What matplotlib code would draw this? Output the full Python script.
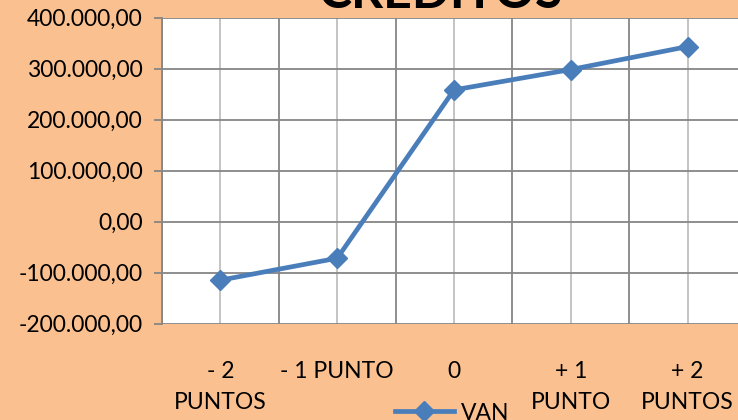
import matplotlib
matplotlib.use("Agg")
import matplotlib.pyplot as plt
from matplotlib.ticker import FuncFormatter, FixedLocator
from matplotlib.lines import Line2D

categories = ["- 2\nPUNTOS", "- 1 PUNTO", "0", "+ 1\nPUNTO", "+ 2\nPUNTOS"]
van = [-115000, -72000, 258000, 298000, 343000]
yticks = [-200000, -100000, 0, 100000, 200000, 300000, 400000]
title = "CRÉDITOS"
series_name = "VAN"

BG = "#FAC090"
LINE = "#4A7EBB"
FONT = "Lato"
FS = 16.5

fig = plt.figure(figsize=(7.38, 4.20), dpi=100)
fig.patch.set_facecolor(BG)
ax = fig.add_axes([162/738, (420-323.5)/420, 584/738, 306/420])
ax.set_facecolor("white")

x = list(range(len(categories)))
ax.plot(x, van, color=LINE, lw=3.4, marker="D", markersize=10.5,
        markerfacecolor=LINE, markeredgecolor=LINE, zorder=5, clip_on=False)

ax.set_xlim(-0.5, len(categories) - 0.5)
ax.set_ylim(yticks[0], yticks[-1])

# category axis: major gridlines at boundaries, minor at categories
ax.xaxis.set_major_locator(FixedLocator([i - 0.5 for i in range(len(categories) + 1)]))
ax.xaxis.set_minor_locator(FixedLocator(x))
ax.set_xticklabels([""] * (len(categories) + 1))
ax.set_xticks(x, categories, minor=True)
ax.tick_params(axis="x", which="both", length=0)
ax.tick_params(axis="x", which="minor", pad=27, labelsize=FS)
for lbl in ax.get_xticklabels(minor=True):
    lbl.set_fontfamily(FONT)
    lbl.set_linespacing(1.6)
ax.grid(True, which="major", axis="x", color="#868686", lw=1.3)
ax.grid(True, which="minor", axis="x", color="#BFBFBF", lw=1.3)

ax.set_yticks(yticks)
def fmt(v, pos):
    s = f"{v:,.2f}"
    return s.replace(",", "X").replace(".", ",").replace("X", ".")
ax.yaxis.set_major_formatter(FuncFormatter(fmt))
ax.tick_params(axis="y", length=6, width=1.3, color="#868686", labelsize=FS, pad=8)
for lbl in ax.get_yticklabels():
    lbl.set_fontfamily(FONT)
ax.grid(True, which="major", axis="y", color="#868686", lw=1.3)
ax.set_axisbelow(True)

for s in ["top", "right", "bottom"]:
    ax.spines[s].set_visible(False)
ax.spines["left"].set_color("#868686")
ax.spines["left"].set_linewidth(1.3)

fig.text(440/738, 1 - 8/420, title, ha="center", va="baseline",
         fontsize=36, fontweight="bold", family=FONT, color="black")

handle = Line2D([0], [0], color=LINE, lw=3.4, marker="D", markersize=10.5)
fig.legend([handle], [series_name], loc="center", bbox_to_anchor=(452/738, 7/420),
           frameon=False, prop={"family": FONT, "size": FS}, handlelength=2.6,
           handletextpad=0.3)

fig.savefig("out.png", dpi=100, facecolor=BG)
